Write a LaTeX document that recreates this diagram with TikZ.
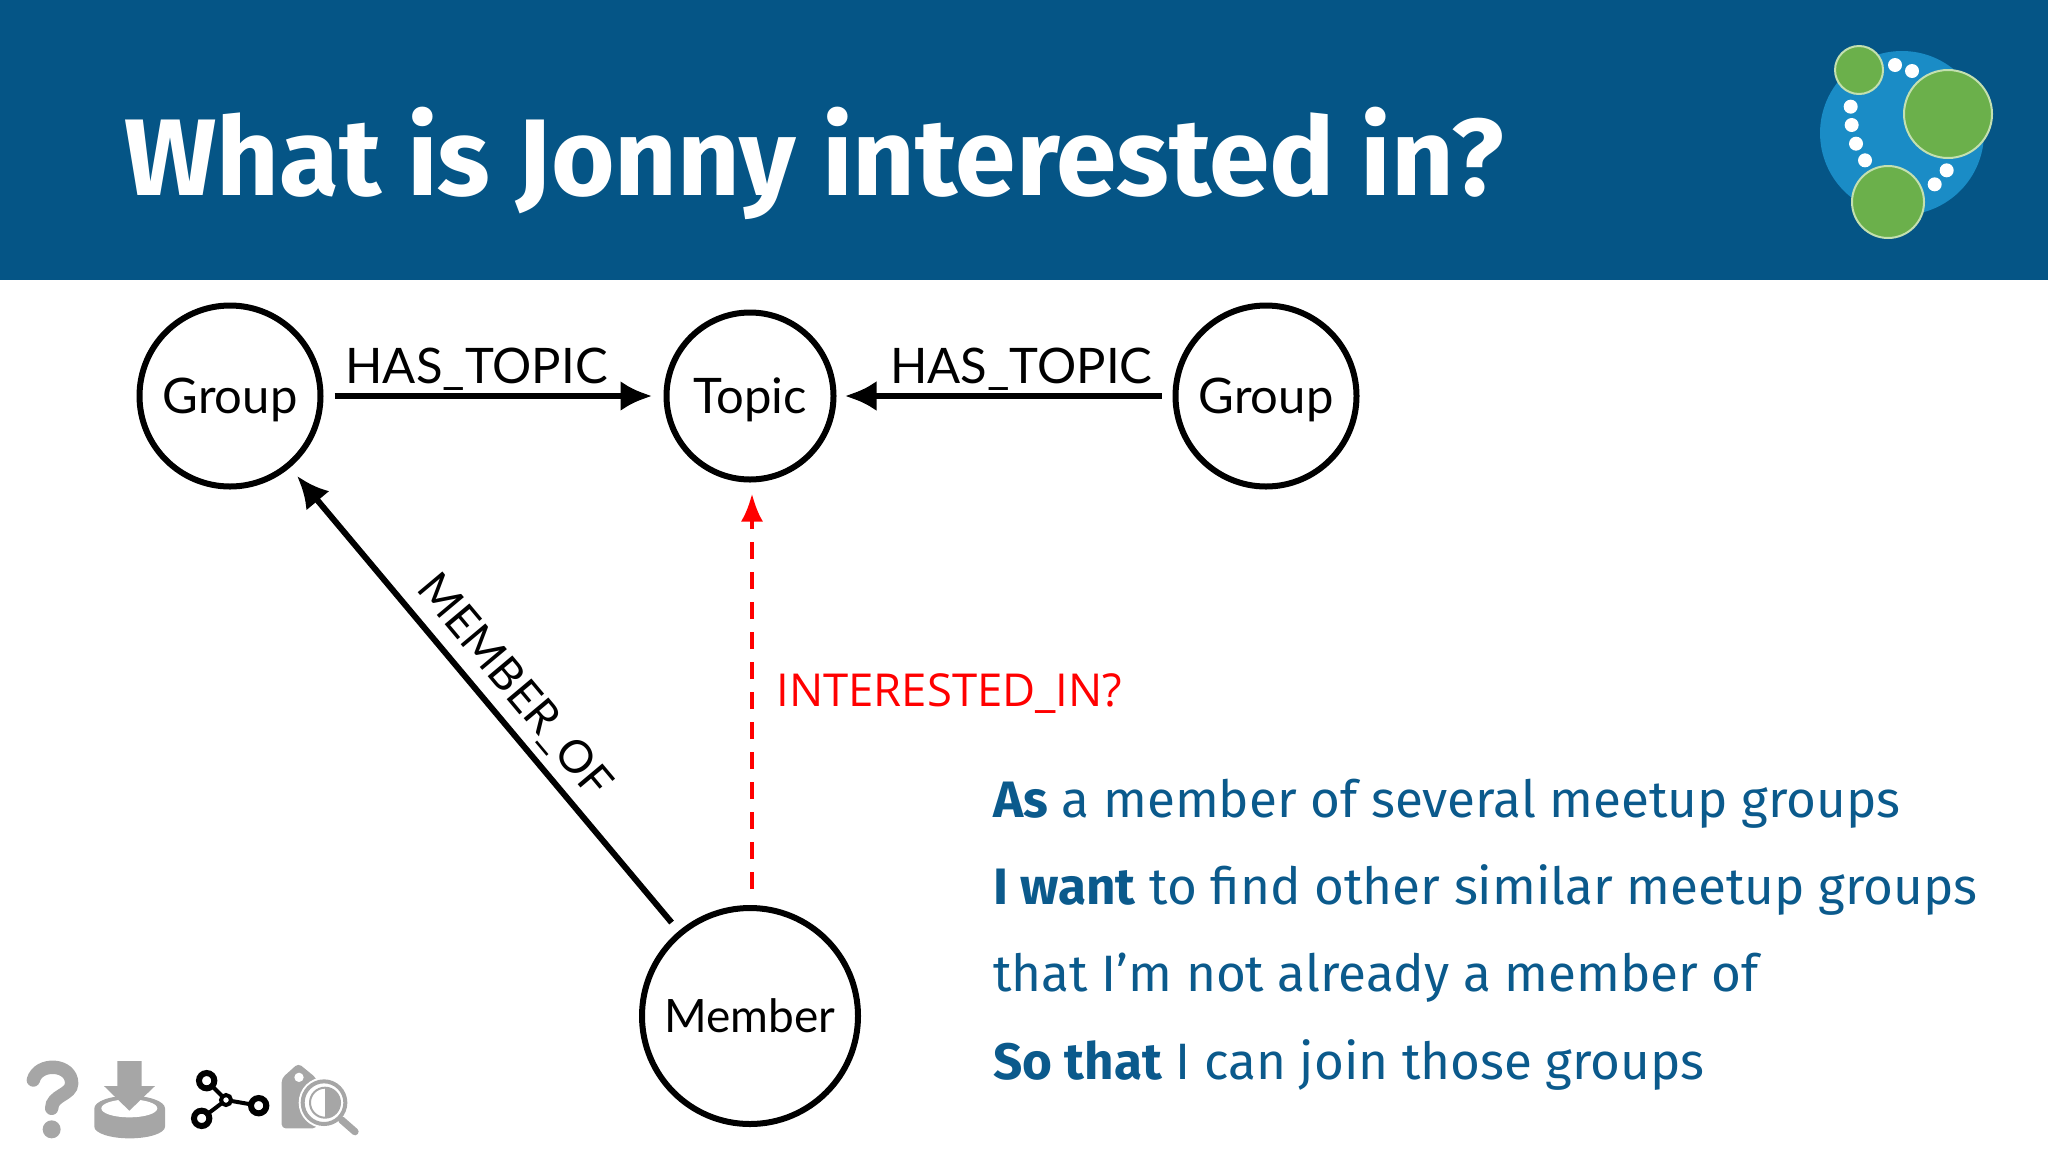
\documentclass[tikz,border=0pt]{standalone}
\usepackage{fontspec}
\setmainfont{Fira Sans}
\newfontfamily\diagramfont{Lato}
\newfontfamily\labelfont{Open Sans}
\usetikzlibrary{arrows.meta}
\definecolor{headerblue}{HTML}{055586}
\definecolor{logoblue}{HTML}{1A8CC6}
\definecolor{logogreen}{HTML}{6BB04B}
\definecolor{logoring}{HTML}{C3E0B0}
\definecolor{icongray}{HTML}{A6A6A6}
\definecolor{textblue}{HTML}{0B5A8C}
\tikzset{
  entity/.style={draw,circle,line width=3pt,inner sep=0pt,text depth=0pt,font=\diagramfont\fontsize{24.5}{24.5}\selectfont},
  rel/.style={line width=3.4pt,-{Latex[length=16pt,width=15pt]},shorten <=5.5pt,shorten >=5.5pt},
  rellabel/.style={font=\diagramfont\fontsize{24.5}{24.5}\selectfont,inner sep=1pt},
  story/.style={anchor=base west,inner sep=0pt,text=textblue,font=\fontsize{25.6}{25.6}\selectfont},
}
\begin{document}
\begin{tikzpicture}[x=0.5pt,y=-0.5pt]
\useasboundingbox (0,0) rectangle (2048,1152);
\fill[headerblue] (0,0) rectangle (2048,280);
\node (title) at (124,195) [anchor=base west,inner sep=0pt,text=white,font=\bfseries\fontsize{54.5}{54.5}\selectfont] {What is Jonny interested in?};
% logo
\fill[logoblue] (1902,133) circle [radius=82];
\foreach \dotx/\doty in {345/135,396/153,212/260,215/315,228/371,255/421,464/493,500/451}
  \fill[white] ({1780+\dotx/3},{20+\doty/3}) circle [radius=7];
\filldraw[fill=logogreen,draw=logoring,line width=1pt] (1859,70) circle [radius=24];
\filldraw[fill=logogreen,draw=logoring,line width=1pt] (1948,114) circle [radius=44];
\filldraw[fill=logogreen,draw=logoring,line width=1pt] (1888,202) circle [radius=36];
% graph
\node (group1) at (230,396) [entity,minimum size=90.5pt] {Group};
\node (topic) at (750,396) [entity,minimum size=83.5pt] {Topic};
\node (group2) at (1266,396) [entity,minimum size=90.5pt] {Group};
\node (member) at (750,1016) [entity,minimum size=108pt,font=\diagramfont\fontsize{23}{23}\selectfont] {Member};
\draw[rel] (group1) -- node[rellabel,above,pos=.45] {HAS\_TOPIC} (topic);
\draw[rel,shorten >=4pt] (group2) -- node[rellabel,above,pos=.45] {HAS\_TOPIC} (topic);
\draw[rel,line width=3pt] (member) -- node[rellabel,above,sloped,pos=.485,yshift=3pt,font=\diagramfont\fontsize{22.5}{22.5}\selectfont] {MEMBER\_OF} (group1);
\draw[red,line width=2pt,dash pattern=on 8.5pt off 6.5pt,-{Latex[length=14pt,width=11pt]},shorten <=8pt,shorten >=5.5pt]
  ([xshift=1pt]member.north) -- node (interested) [pos=.5,right=8pt,font=\labelfont\fontsize{22.7}{22.7}\selectfont] {INTERESTED\_IN?} ([xshift=1pt]topic.south);
% user story
\node (line1) at (993,817) [story] {\textbf{As} a member of several meetup groups};
\node (line2) at (993,904) [story] {\textbf{I want} to find other similar meetup groups};
\node (line3) at (993,991) [story] {that I’m not already a member of};
\node (line4) at (993,1079) [story] {\textbf{So that} I can join those groups};
% icons
\begin{scope}[shift={(0,1020)},x=0.16667pt,y=-0.16667pt]
  % question mark
  \draw[icongray,line width=6.7pt,line cap=round] (100,180) .. controls (115,125) and (215,130) .. (215,190) .. controls (215,225) and (155,225) .. (155,265);
  \fill[icongray] (155,328) circle [radius=27];
  % download
  \fill[icongray] (283,265) -- (283,320) arc [start angle=180,end angle=0,x radius=106,y radius=35] -- (495,265) arc [start angle=0,end angle=-180,x radius=106,y radius=38] -- cycle;
  \fill[white] (388,265) ellipse [x radius=84,y radius=27];
  \fill[icongray] (352,123) -- (425,123) -- (425,198) -- (465,198) -- (388,272) -- (312,198) -- (352,198) -- cycle;
  % graph
  \draw[black,line width=2pt] (620,182) -- (678,240) -- (776,257) (678,240) -- (605,295);
  \foreach \nodex/\nodey in {620/182,605/295,776/257}
    \filldraw[fill=white,draw=black,line width=3pt] (\nodex,\nodey) circle [radius=23];
  \filldraw[fill=white,draw=black,line width=2pt] (678,240) circle [radius=15];
  % tag and lens
  \fill[icongray,rounded corners=2pt] (845,325) -- (845,175) -- (895,130) -- (950,175) -- (950,325) -- cycle;
  \fill[white] (897,172) circle [radius=14];
  \fill[white] (972,248) circle [radius=76];
  \draw[icongray,line width=3.6pt,line cap=round] (1025,300) -- (1065,335);
  \draw[icongray,line width=2pt] (972,248) circle [radius=64];
  \draw[icongray,line width=1pt] (975,248) circle [radius=45];
  \fill[icongray] (975,203) arc [start angle=-90,end angle=90,radius=45] -- cycle;
\end{scope}
\end{tikzpicture}
\end{document}
